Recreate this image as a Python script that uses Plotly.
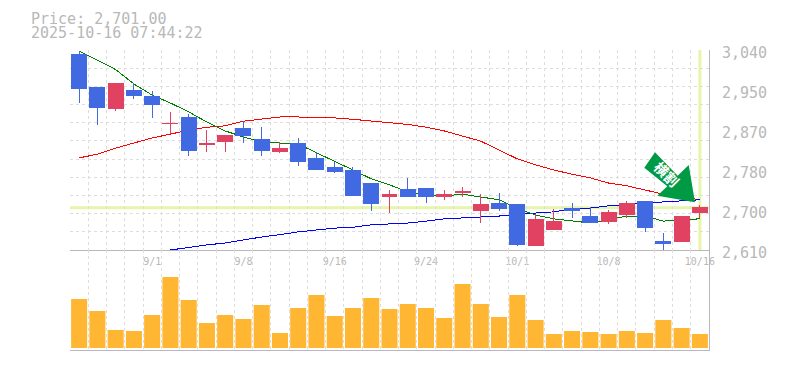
import plotly.graph_objects as go

dates = ["8/26","8/27","8/28","8/29","9/1","9/2","9/3","9/4","9/5","9/8","9/9","9/10","9/11","9/12","9/16","9/17","9/18","9/19","9/22","9/24",
         "9/25","9/26","9/29","9/30","10/1","10/2","10/3","10/6","10/7","10/8","10/9","10/10","10/14","10/15","10/16"]
labelled_dates = ["9/1","9/8","9/16","9/24","10/1","10/8","10/16"]
opens  = [3031,2960,2915,2954,2941,2882,2894,2836,2844,2872,2847,2821,2840,2806,2788,2782,2752,2726,2741,2743,2724,2734,2696,2709,2707,2619,2655,2700,2681,2672,2687,2715,2629,2629,2690]
highs  = [3038,2960,2969,2969,2952,2907,2902,2868,2857,2887,2874,2842,2851,2821,2799,2788,2752,2739,2765,2743,2739,2745,2730,2733,2709,2687,2698,2711,2702,2696,2715,2715,2647,2683,2707]
lows   = [2926,2879,2909,2935,2894,2859,2812,2821,2821,2840,2812,2819,2791,2784,2776,2726,2694,2690,2724,2711,2718,2724,2668,2694,2619,2619,2653,2679,2670,2666,2679,2649,2610,2629,2679]
closes = [2958,2917,2969,2943,2922,2883,2825,2840,2857,2857,2823,2829,2801,2784,2778,2728,2709,2730,2726,2724,2730,2735,2707,2700,2621,2675,2672,2696,2670,2690,2709,2659,2625,2683,2702]
volumes = [49,37,18,17,33,71,48,25,33,29,43,15,40,53,32,40,50,39,44,40,30,64,44,31,53,28,14,17,16,14,17,15,28,20,14]
ma_short = [3038,3018,2998,2967,2943,2926,2907,2885,2866,2853,2842,2840,2838,2819,2801,2782,2763,2750,2735,2728,2726,2730,2724,2718,2700,2685,2677,2672,2668,2675,2683,2683,2672,2675,2677]
ma_mid = [2808,2816,2829,2840,2851,2859,2868,2874,2877,2887,2892,2896,2896,2895,2894,2891,2887,2883,2880,2874,2866,2855,2844,2825,2806,2793,2782,2773,2765,2754,2748,2739,2730,2724,2718]
ma_long = [None]*5 + [2610,2616,2621,2625,2632,2638,2643,2649,2653,2657,2659,2664,2666,2668,2672,2677,2679,2681,2683,2687,2690,2692,2698,2700,2705,2707,2711,2713,2715,2718]
price_ticks = [2610,2696,2782,2868,2954,3040]
price_labels = ["2,610","2,700","2,780","2,870","2,950","3,040"]
price_now = 2701
title_lines = ["Price: 2,701.00","2025-10-16 07:44:22"]
badge_text = "横割"

PRICE_RANGE = [2610,3040]
W,H = 785,370
L,R,T,B = 70,76,50,20
GRID = "#dddddd"; AX = "#b8b8b8"; BG_LINE = "#e6f5a8"; MONO = "DejaVu Sans Mono"
idx = list(range(len(dates)))

def px(x): return (x-L)/(W-L-R)
def py(y): return 1-(y-T)/(H-T-B)

fig = go.Figure()
fig.add_trace(go.Scatter(x=idx,y=ma_mid,mode="lines",line=dict(color="#ff0000",width=1),xaxis="x",yaxis="y",hoverinfo="skip"))
fig.add_trace(go.Scatter(x=idx,y=ma_long,mode="lines",line=dict(color="#0000ff",width=1),xaxis="x",yaxis="y",hoverinfo="skip"))
fig.add_trace(go.Scatter(x=idx,y=ma_short,mode="lines",line=dict(color="#008000",width=1),xaxis="x",yaxis="y",hoverinfo="skip"))
fig.add_trace(go.Candlestick(x=idx,open=opens,high=highs,low=lows,close=closes,xaxis="x",yaxis="y3",whiskerwidth=0,
    increasing=dict(line=dict(color="#e24262",width=1),fillcolor="#e24262"),
    decreasing=dict(line=dict(color="#4169e1",width=1),fillcolor="#4169e1"),hoverinfo="skip"))
fig.add_trace(go.Bar(x=idx,y=volumes,xaxis="x2",yaxis="y2",marker=dict(color="#ffb733",line_width=0),hoverinfo="skip"))

grid_minor = dict(tick0=-0.5,dtick=1,showgrid=True,gridcolor=GRID,griddash="3px,3px",gridwidth=1,ticks="")
fig.update_layout(
    width=W,height=H,autosize=False,margin=dict(l=L,r=R,t=T,b=B,autoexpand=False),
    paper_bgcolor="white",plot_bgcolor="white",showlegend=False,bargap=0.12,boxgap=0.18,boxgroupgap=0,
    xaxis=dict(domain=[0,1],range=[-0.5,34.5],anchor="y",rangeslider=dict(visible=False),
        tickmode="array",tickvals=[dates.index(d) for d in labelled_dates],ticktext=labelled_dates,
        tickfont=dict(family=MONO,size=10,color=AX),ticks="",showgrid=False,zeroline=False,
        showline=True,linecolor=AX,linewidth=1,minor=grid_minor,ticklabelstandoff=2,automargin=False),
    xaxis2=dict(domain=[0,1],range=[-0.5,34.5],anchor="y2",showticklabels=False,ticks="",showgrid=False,zeroline=False,
        showline=True,linecolor=AX,linewidth=1,minor=grid_minor),
    yaxis=dict(domain=[1/3,1],range=PRICE_RANGE,side="right",anchor="x",tickmode="array",tickvals=price_ticks,ticktext=price_labels,
        tickfont=dict(family=MONO,size=15,color=AX),ticks="",showgrid=False,zeroline=False,showline=True,linecolor=AX,linewidth=1,
        ticklabelstandoff=9,ticklabelshift=3,automargin=False,
        minor=dict(tick0=2610,dtick=430/11,showgrid=True,gridcolor=GRID,griddash="3px,3px",gridwidth=1,ticks="")),
    yaxis2=dict(domain=[0,1/3],range=[-2,98],side="right",anchor="x2",showticklabels=False,ticks="",showgrid=False,zeroline=False,
        showline=True,linecolor=AX,linewidth=1),
    yaxis3=dict(domain=[1/3,1],range=PRICE_RANGE,overlaying="y",side="right",anchor="x",showticklabels=False,ticks="",showgrid=False,zeroline=False),
)
fig.add_shape(type="line",xref="x",yref="y",x0=-0.5,x1=34.5,y0=price_now,y1=price_now,line=dict(color=BG_LINE,width=3),layer="below")
fig.add_shape(type="line",xref="x",yref="y",x0=34,x1=34,y0=PRICE_RANGE[0],y1=PRICE_RANGE[1],line=dict(color=BG_LINE,width=3),layer="below")

arrow = [(644.3,167.7),(655,152.3),(677.7,175.7),(688.7,165),(695,202.3),(657.3,195.7),(667.3,186.3)]
path = "M "+" L ".join(f"{px(a):.5f},{py(b):.5f}" for a,b in arrow)+" Z"
fig.add_shape(type="path",xref="paper",yref="paper",path=path,fillcolor="#009944",line=dict(color="#009944",width=0),layer="above")
fig.add_annotation(xref="paper",yref="paper",x=px(667),y=py(174),xanchor="center",yanchor="middle",text=f"<b>{badge_text}</b>",textangle=45,showarrow=False,
    font=dict(family="Noto Sans CJK JP",size=14,color="white"))
for t,yy in zip(title_lines,[18.5,32.5]):
    fig.add_annotation(xref="paper",yref="paper",x=px(29),y=py(yy),text=t,showarrow=False,xanchor="left",yanchor="middle",
        font=dict(family=MONO,size=15,color=AX))

css = "var s=document.createElement('style');s.textContent='.scatterlayer path,.boxlayer path,.gridlayer path{shape-rendering:crispEdges}';document.head.appendChild(s);"
fig.write_html("out.html",config={"displayModeBar":False},post_script="document.body.style.margin='0';document.body.style.overflow='hidden';"+css)
